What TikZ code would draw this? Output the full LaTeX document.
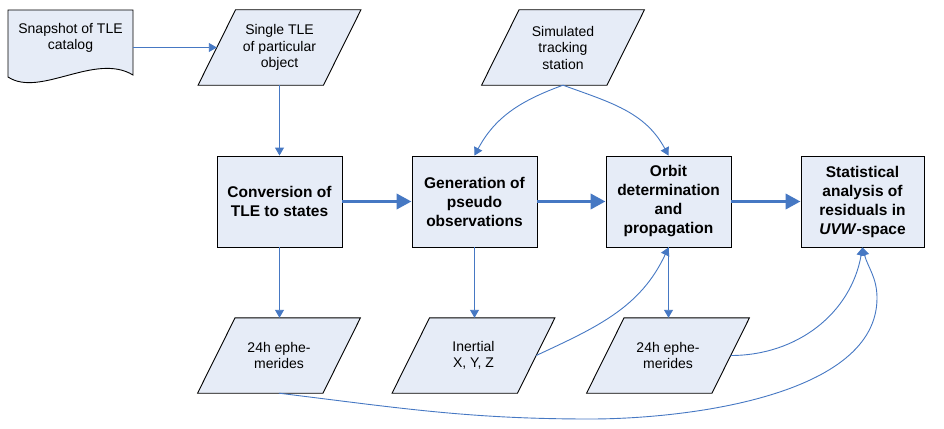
\documentclass[tikz,border=0pt]{standalone}
\usepackage{fontspec}
\setmainfont{Liberation Sans}
\usetikzlibrary{arrows.meta,backgrounds,calc}
\definecolor{boxfill}{RGB}{230,236,247}
\definecolor{arrowblue}{RGB}{70,120,195}
\begin{document}
\begin{tikzpicture}[x=1pt,y=1pt,
  txt/.style={font=\fontsize{14}{16.5}\selectfont, align=center, inner sep=0pt},
  procbox/.style={font=\fontsize{15.5}{19}\selectfont\bfseries, align=center, draw=black, line width=0.9pt, fill=boxfill, minimum width=125, minimum height=91, inner sep=0pt},
  paranode/.style={txt, minimum width=162.5, minimum height=75},
  thinarrow/.style={draw=arrowblue, line width=0.9pt, -{Triangle[length=8pt,width=9pt]}},
  thickarrow/.style={draw=arrowblue, line width=3.8pt, -{Triangle[length=15pt,width=15pt]}},
  pshape/.style={draw=black, line width=0.9pt, fill=boxfill}
]
\useasboundingbox (0,0) rectangle (944,-428);

% document shape
\draw[pshape] (8,-10) -- (133,-10) -- (133,-75) .. controls (95,-52) and (40,-98) .. (8,-77) -- cycle;
\node[txt, minimum width=125] (snap) at (70.5,-38) {Snapshot of TLE\\catalog};

% parallelogram nodes
\node[paranode] (tle) at (279.5,-47.5) {Single TLE\\of particular\\object};
\node[paranode] (sts) at (563,-47.5) {Simulated\\tracking\\station};
\node[paranode] (e1) at (279,-355.5) {24h ephe-\\merides};
\node[paranode] (inr) at (473.5,-355.5) {Inertial\\X, Y, Z};
\node[paranode] (e2) at (668,-355.5) {24h ephe-\\merides};

\begin{scope}[on background layer]
\foreach \n in {tle,sts,e1,inr,e2}{
  \draw[pshape] ([xshift=37.5]\n.north west) -- (\n.north east) -- ([xshift=-37.5]\n.south east) -- (\n.south west) -- cycle;
}
\end{scope}

% process boxes
\node[procbox] (conv) at (279.5,-201.5) {Conversion of\\TLE to states};
\node[procbox] (gen) at (474.5,-201.5) {Generation of\\pseudo\\observations};
\node[procbox] (orb) at (668.5,-201.5) {Orbit\\determination\\and\\propagation};
\node[procbox, minimum width=123] (stat) at (862.5,-201.5) {Statistical\\analysis of\\residuals in\\\textit{UVW}-space};

\coordinate (tlel) at ([xshift=18.75]tle.west);
\coordinate (inrr) at ([xshift=-18.75]inr.east);
\coordinate (e2r) at ([xshift=-18.75]e2.east);
\coordinate (low) at (590,-419);
\coordinate (rt) at (877,-298);

% connectors
\draw[thinarrow] (snap.east |- tlel) -- (tlel);
\draw[thinarrow] (tle.south) -- (conv.north);
\draw[thickarrow] (conv) -- (gen);
\draw[thickarrow] (gen) -- (orb);
\draw[thickarrow] (orb) -- (stat);
\draw[thinarrow] (conv.south) -- (conv.south |- e1.north);
\draw[thinarrow] (gen.south) -- (gen.south |- inr.north);
\draw[thinarrow] (orb.south) -- (orb.south |- e2.north);
\draw[thinarrow] (sts.south) to[out=200,in=62] (gen.north);
\draw[thinarrow] (sts.south) to[out=-20,in=118] (orb.north);
\draw[thinarrow] (inrr) to[out=25,in=-115] (orb.south);
\draw[thinarrow] (e2r) to[out=0,in=-100] (stat.south);
\draw[thinarrow] (e1.south) to[out=-7,in=180] (low) to[out=0,in=-90,looseness=0.8] (rt) to[out=90,in=-75] (stat.south);
\end{tikzpicture}
\end{document}
